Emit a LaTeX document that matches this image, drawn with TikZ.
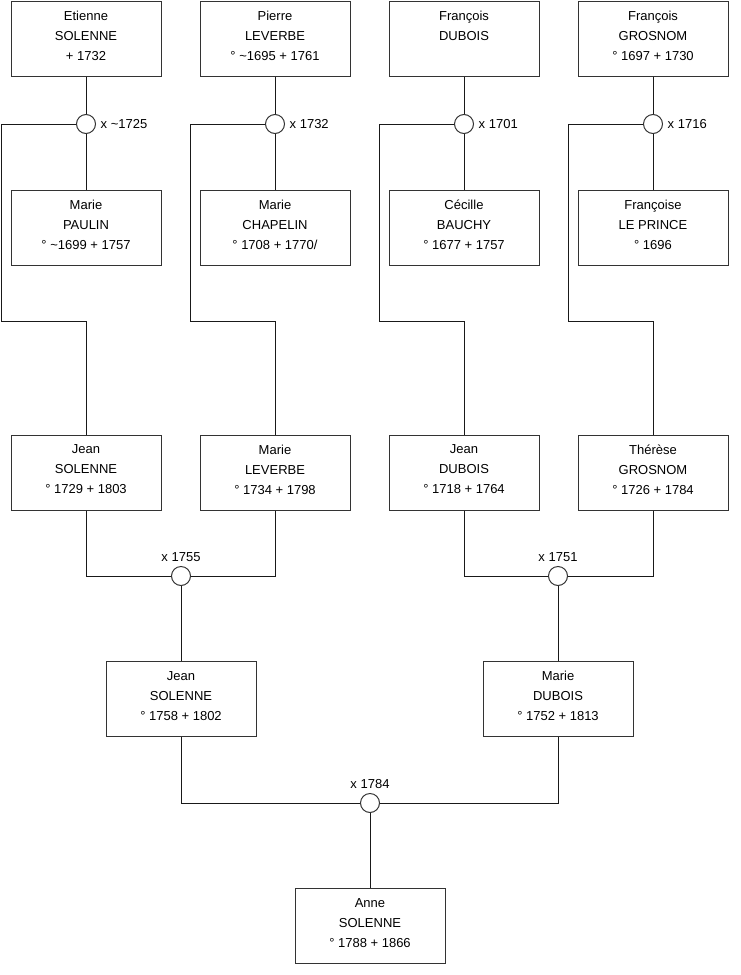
\documentclass[tikz,border=0pt]{standalone}
\usepackage{fontspec}
\setmainfont{Liberation Sans}
\usetikzlibrary{positioning}

\tikzset{
  person/.style={draw=black!80, line width=0.75pt, fill=white, align=center,
    minimum width=112.5pt, minimum height=56.25pt, inner sep=0pt,
    font=\fontsize{9.75}{15}\selectfont,
    execute at end node={\rule[-4.5pt]{0pt}{4.5pt}}},
  wed/.style={circle, draw=black!80, line width=0.75pt, fill=white,
    minimum size=14.25pt, inner sep=0pt},
  wedlabel/.style={font=\fontsize{9.75}{12}\selectfont, label distance=0pt},
  link/.style={draw=black!90, line width=0.75pt}
}

\begin{document}
\begin{tikzpicture}[x=0.75pt, y=-0.75pt]
    \useasboundingbox (0,0) rectangle (740,975);

    % great-grandparents
    \node[person] (etienne)   at (86,38.5)  {Etienne\\SOLENNE\\+ 1732};
    \node[person] (pierre)    at (275,38.5) {Pierre\\LEVERBE\\° \textasciitilde1695 + 1761};
    \node[person] (francoisd) at (464,38.5) {François\\DUBOIS\\\mbox{}};
    \node[person] (francoisg) at (653,38.5) {François\\GROSNOM\\° 1697 + 1730};

    \node[person] (mariep)    at (86,227.5)  {Marie\\PAULIN\\° \textasciitilde1699 + 1757};
    \node[person] (mariec)    at (275,227.5) {Marie\\CHAPELIN\\° 1708 + 1770/};
    \node[person] (cecile)    at (464,227.5) {Cécille\\BAUCHY\\° 1677 + 1757};
    \node[person] (francoise) at (653,227.5) {Françoise\\LE PRINCE\\° 1696};

    \node[wed, label={[wedlabel]right:x \textasciitilde1725}] (m1725) at (86,124) {};
    \node[wed, label={[wedlabel]right:x 1732}] (m1732) at (275,124) {};
    \node[wed, label={[wedlabel]right:x 1701}] (m1701) at (464,124) {};
    \node[wed, label={[wedlabel]right:x 1716}] (m1716) at (653,124) {};

    % grandparents
    \node[person] (jeans)   at (86,472.5)  {Jean\\SOLENNE\\° 1729 + 1803};
    \node[person] (mariel)  at (275,472.5) {Marie\\LEVERBE\\° 1734 + 1798};
    \node[person] (jeand)   at (464,472.5) {Jean\\DUBOIS\\° 1718 + 1764};
    \node[person] (therese) at (653,472.5) {Thérèse\\GROSNOM\\° 1726 + 1784};

    \coordinate (k1725) at (1,321);
    \coordinate (k1732) at (190,321);
    \coordinate (k1701) at (379,321);
    \coordinate (k1716) at (568,321);

    \draw[link] (etienne.south) -- (m1725.north);
    \draw[link] (m1725.south) -- (mariep.north);
    \draw[link] (m1725.west) -| (k1725) -| (jeans.north);
    \draw[link] (pierre.south) -- (m1732.north);
    \draw[link] (m1732.south) -- (mariec.north);
    \draw[link] (m1732.west) -| (k1732) -| (mariel.north);
    \draw[link] (francoisd.south) -- (m1701.north);
    \draw[link] (m1701.south) -- (cecile.north);
    \draw[link] (m1701.west) -| (k1701) -| (jeand.north);
    \draw[link] (francoisg.south) -- (m1716.north);
    \draw[link] (m1716.south) -- (francoise.north);
    \draw[link] (m1716.west) -| (k1716) -| (therese.north);

    % parents
    \node[wed, label={[wedlabel]above:x 1755}] (m1755) at (181,576) {};
    \node[wed, label={[wedlabel]above:x 1751}] (m1751) at (558,576) {};

    \node[person] (jean)  at (181,699) {Jean\\SOLENNE\\° 1758 + 1802};
    \node[person] (marie) at (558,699) {Marie\\DUBOIS\\° 1752 + 1813};

    \draw[link] (jeans.south) |- (m1755.west);
    \draw[link] (mariel.south) |- (m1755.east);
    \draw[link] (m1755.south) -- (jean.north);
    \draw[link] (jeand.south) |- (m1751.west);
    \draw[link] (therese.south) |- (m1751.east);
    \draw[link] (m1751.south) -- (marie.north);

    % child
    \node[wed, label={[wedlabel]above:x 1784}] (m1784) at (370,803) {};
    \node[person] (anne) at (370,926) {Anne\\SOLENNE\\° 1788 + 1866};

    \draw[link] (jean.south) |- (m1784.west);
    \draw[link] (marie.south) |- (m1784.east);
    \draw[link] (m1784.south) -- (anne.north);
\end{tikzpicture}
\end{document}
